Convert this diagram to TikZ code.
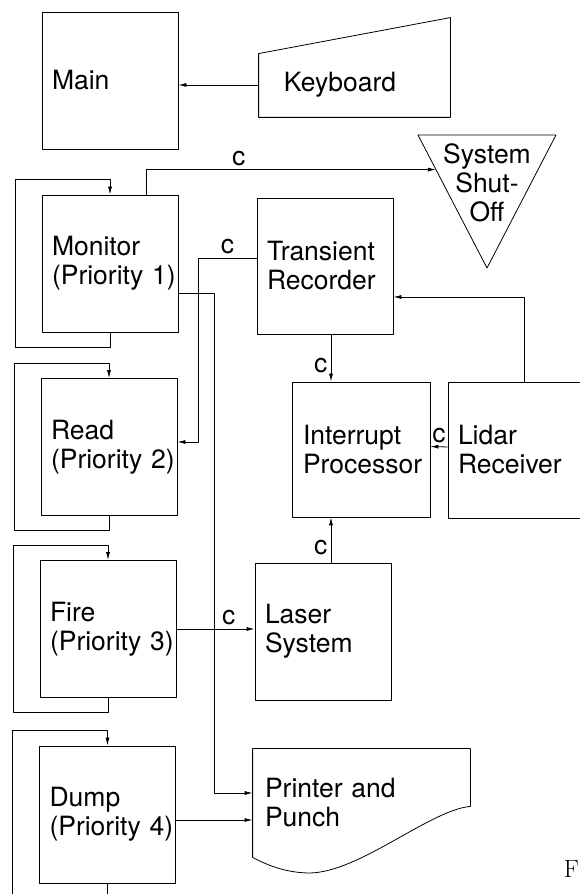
\documentclass[tikz,border=0pt]{standalone}
\usepackage{fontspec}
\setsansfont{TeX Gyre Heros}
\usetikzlibrary{arrows.meta,calc}

\tikzset{
    kasten/.style={draw, rectangle, minimum width=136pt, minimum height=137pt,
        text width=116pt, inner xsep=10pt, align=left},
    schrift/.style={font=\sffamily\fontsize{26.5}{29}\selectfont},
    pfeil/.style={-{Latex[length=8pt,width=4pt]}}
}

\begin{document}
\begin{tikzpicture}[x=1pt, y=1pt, line width=0.8pt, line join=round, every node/.style={schrift}]
    \useasboundingbox (0,0) rectangle (580,894);
    \clip (0,0) rectangle (580,894);
    \path node[kasten] (main) at (110,813.5) {Main}
        node[kasten] (mon) at (110,630.5) {Monitor\\(Priority~1)}
        node[kasten] (read) at (109,447) {Read\\(Priority~2)}
        node[kasten] (fire) at (108,265) {Fire\\(Priority~3)}
        node[kasten] (dump) at (107.5,79.5) {Dump\\(Priority~4)}
        node[kasten, minimum width=134pt, minimum height=136pt] (trans) at (325,628) {Transient\\Recorder}
        node[kasten, minimum width=138pt, minimum height=135pt] (inter) at (361,444.5) {Interrupt\\Processor}
        node[kasten, minimum width=152pt, minimum height=136pt, text width=132pt] (lidar) at (524,444) {Lidar\\Receiver}
        node[kasten] (laser) at (323,262.5) {Laser\\System}
        node[minimum width=191pt, minimum height=99pt] (kbd) at (354.5,826.5) {}
        node (kbdtext) at (340,809) {Keyboard}
        node[minimum width=217pt, minimum height=108pt, text width=193pt, inner xsep=12pt, align=left] (drucker) at (361.5,91) {Printer and\\Punch}
        node[align=center] (shutoff) at (487,711) {System\\Shut-\\Off}
        node[font=\rmfamily\fontsize{25}{29}\selectfont] (fig) at (571.5,25) {F};
    \coordinate (tl) at (418,759);
    \coordinate (tr) at (556,759);
    \coordinate (tb) at (487,626);
    \coordinate (shutin) at ($(tl)!0.26!(tb)$);
    \draw (tl) -- (tr) -- (tb) -- cycle;
    \draw (kbd.south west) -- (kbd.south east) -- (kbd.north east) -- ([yshift=-36pt]kbd.north west) -- cycle;
    \draw (drucker.south west) -- (drucker.north west) -- (drucker.north east) -- ([yshift=51pt]drucker.south east)
        .. controls (430,84) and (360,22) .. (310,21)
        .. controls (285,21) and (265,30) .. (drucker.south west);
    \draw[pfeil] (kbdtext.west -| kbd.west) -- (kbdtext.west -| main.east);
    \draw[pfeil] ([xshift=36pt]mon.north) |- node[pos=0.66, above] {c} (shutin);
    \draw[pfeil] ([yshift=8pt]trans.west) -| node[pos=0.25, above] {c} ([xshift=21pt,yshift=5pt]read.east) -- ([yshift=5pt]read.east);
    \draw[pfeil] ([yshift=-29.5pt]mon.east) -| ([xshift=-38pt,yshift=10pt]drucker.west) -- ([yshift=10pt]drucker.west);
    \draw[pfeil] ([xshift=6pt]trans.south) -- node[pos=0.65, left] {c} ([xshift=-30pt]inter.north);
    \draw[pfeil] ([yshift=3pt]lidar.west) -- node[above] {c} ([yshift=3pt]inter.east);
    \draw[pfeil] (lidar.north) |- ([yshift=-31pt]trans.east);
    \draw[pfeil] ([xshift=8pt]laser.north) -- node[pos=0.33, left] {c} ([xshift=-30pt]inter.south);
    \draw[pfeil] (fire.east) -- node[pos=0.67, above] {c} (fire.east -| laser.west);
    \draw[pfeil] ([yshift=-5.5pt]dump.east) -- ([yshift=-17pt]drucker.west);
    \foreach \n in {mon,read,fire,dump}
        \draw[pfeil] (\n.south) -- ++(0,-15) -| ([xshift=-95pt,yshift=15pt]\n.north) -| (\n.north);
\end{tikzpicture}
\end{document}
